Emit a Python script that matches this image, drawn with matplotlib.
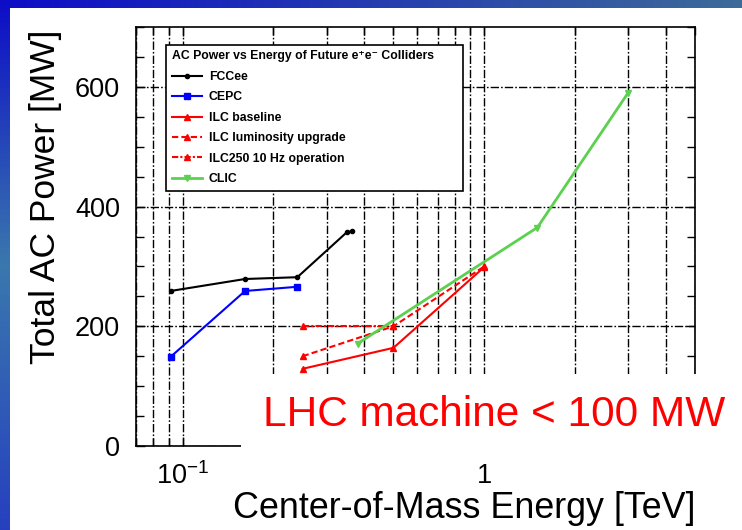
import numpy as np
import matplotlib
matplotlib.use('Agg')
import matplotlib.pyplot as plt
from matplotlib.patches import Rectangle
from matplotlib.ticker import FixedLocator, FixedFormatter, NullFormatter, MultipleLocator

plt.rcParams['font.family'] = ['Liberation Sans', 'DejaVu Sans']
plt.rcParams['mathtext.default'] = 'regular'

# data (energy in TeV, power in MW)
fccee_e = [0.0912, 0.161, 0.24, 0.35, 0.365]
fccee_p = [259, 279, 282, 357, 359]
cepc_e = [0.0912, 0.161, 0.24]
cepc_p = [149, 259, 266]
ilc_e = [0.25, 0.5, 1.0]
ilc_p = [129, 164, 299]
ilc_lumi_e = [0.25, 0.5, 1.0]
ilc_lumi_p = [150, 200, 300]
ilc_10hz_e = [0.25, 0.5]
ilc_10hz_p = [200, 200]
clic_e = [0.38, 1.5, 3.0]
clic_p = [171, 365, 590]

xtick_vals = [0.1, 1]
xtick_labels = ['$10^{-1}$', '1']
ytick_vals = [0, 200, 400, 600]

W, H = 742, 530
fig = plt.figure(figsize=(W / 100, H / 100), dpi=100)

# slide background: white with blue gradient bars on top and left
bg = np.ones((H, W, 3))
top_h, left_w = 8, 10
t = np.linspace(0, 1, W)[:, None]
c0 = np.array([0.05, 0.05, 0.78])
c1 = np.array([0.24, 0.42, 0.60])
bg[:top_h, :, :] = (c0 * (1 - t) + c1 * t)[None, :, :]
s = np.linspace(0, 1, H)
mid = np.array([0.23, 0.47, 0.68])
bot = np.array([0.15, 0.25, 0.75])
col = np.where(s[:, None] < 0.5,
               c0 * (1 - s[:, None] * 2) + mid * (s[:, None] * 2),
               mid * (2 - s[:, None] * 2) + bot * (s[:, None] * 2 - 1))
bg[:, :left_w, :] = col[:, None, :]
bax = fig.add_axes([0, 0, 1, 1], zorder=-10)
bax.imshow(bg, aspect='auto', extent=(0, W, H, 0))
bax.axis('off')

ax = fig.add_axes([136 / W, 1 - 446 / H, (695 - 136) / W, (446 - 27) / H])
ax.set_facecolor('white')

mk = dict(markersize=4)
ax.plot(fccee_e, fccee_p, color='black', lw=1.5, marker='.', markersize=6, label='FCCee')
ax.plot(cepc_e, cepc_p, color='#0000ff', lw=1.5, marker='s', **mk, label='CEPC')
ax.plot(ilc_e, ilc_p, color='#ff0000', lw=1.5, marker='^', **mk, label='ILC baseline')
ax.plot(ilc_lumi_e, ilc_lumi_p, color='#ff0000', lw=1.5, ls=(0, (3, 1.5)), marker='^', **mk,
        label='ILC luminosity upgrade')
ax.plot(ilc_10hz_e, ilc_10hz_p, color='#ff0000', lw=1.5, ls=(0, (3, 1, 1, 1)), marker='^', **mk,
        label='ILC250 10 Hz operation')
ax.plot(clic_e, clic_p, color='#5cd050', lw=2, marker='v', **mk, label='CLIC')

ax.set_xscale('log')
ax.set_xlim(0.07, 5)
ax.set_ylim(0, 700)

ax.xaxis.set_major_locator(FixedLocator(xtick_vals))
ax.xaxis.set_major_formatter(FixedFormatter(xtick_labels))
ax.xaxis.set_minor_formatter(NullFormatter())
ax.set_yticks(ytick_vals)
ax.yaxis.set_minor_locator(MultipleLocator(50))

grid_ls = (0, (6, 1.5, 1.2, 1.5))
ax.grid(True, which='both', axis='x', color='black', lw=1, ls=grid_ls)
ax.grid(True, which='major', axis='y', color='black', lw=1, ls=grid_ls)

ax.tick_params(which='both', direction='in', top=True, right=True, width=1, colors='black')
ax.tick_params(which='major', length=6.5, labelsize=19.5)
ax.tick_params(which='minor', length=5.5)
ax.tick_params(axis='y', pad=11.5)
ax.tick_params(axis='x', pad=12)
for sp in ax.spines.values():
    sp.set_linewidth(1.2)

leg = ax.legend(loc='upper left', mode='expand',
                bbox_to_anchor=(166 / W, 1 - 188 / H, (463 - 166) / W, (188 - 45) / H),
                bbox_transform=fig.transFigure, borderaxespad=0,
                title='AC Power vs Energy of Future e⁺e⁻ Colliders',
                title_fontproperties={'weight': 'bold', 'size': 8.8},
                alignment='left',
                prop={'weight': 'bold', 'size': 8.8},
                handlelength=2.5, handletextpad=0.55, labelspacing=0.69,
                borderpad=0.45, fancybox=False, framealpha=1, edgecolor='black')
leg.get_frame().set_linewidth(1.2)

fig.text(46 / W, 1 - 197 / H, 'Total AC Power [MW]', rotation=90, ha='center', va='center',
         fontsize=25.5)
fig.text(464 / W, 1 - 508 / H, 'Center-of-Mass Energy [TeV]', ha='center', va='center',
         fontsize=25.8)

# white box that hides the lower plot area, with the red note on it
fig.add_artist(Rectangle((241 / W, 1 - 448 / H), (W - 241) / W, (448 - 374) / H,
                         transform=fig.transFigure, facecolor='white', edgecolor='none', zorder=5))
fig.text(263 / W, 1 - 426 / H, 'LHC machine < 100 MW', color='#ff0000', fontsize=30.5,
         ha='left', va='baseline', zorder=6)

fig.savefig('out.png', dpi=100)
